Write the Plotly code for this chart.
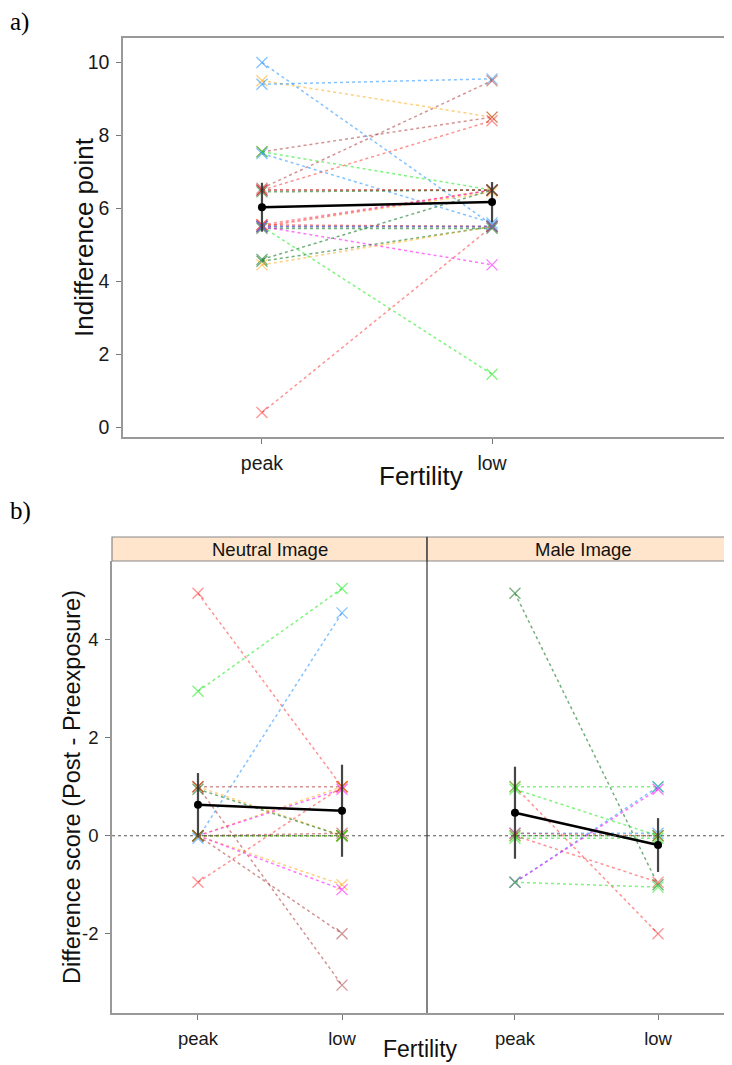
import plotly.graph_objects as go

# page body has an 8px margin, so the figure is drawn 8px in from the window edge
OFF = 8
W, H = 732 - OFF, 1065 - OFF

# ---------------- data ----------------
fertility = ["peak", "low"]

# Panel a: indifference points per subject (peak, low)
a_peak = [10.0, 9.5, 9.4, 7.55, 7.55, 7.5, 6.55, 6.5, 6.5, 6.45, 6.5, 5.5, 5.5, 5.55,
          5.5, 5.5, 5.5, 5.45, 5.5, 5.5, 4.6, 4.55, 4.45, 0.4, 5.55, 5.5]
a_low = [5.55, 8.5, 9.55, 8.5, 6.5, 5.6, 9.5, 8.4, 6.5, 6.5, 6.5, 6.5, 6.45, 6.5,
         5.5, 5.5, 5.5, 5.45, 1.45, 4.45, 6.5, 5.5, 5.5, 5.5, 5.5, 5.5]
a_col = ["blue", "orange", "blue", "brown", "green", "blue", "brown", "red", "red",
         "darkgreen", "brown", "magenta", "orange", "red", "green", "orange", "magenta",
         "darkgreen", "green", "magenta", "darkgreen", "darkgreen", "orange", "red", "red", "blue"]
a_mean = [6.03, 6.17]
a_err = [0.67, 0.55]

# Panel b, neutral image: difference scores (peak, low)
n_peak = [4.95, 2.95, -0.05, -0.95, 1.0, 1.0, 0.95, 1.0, 0.0, 0.0, 0.0, 0.0, 0.0, 0.0, 0.0, 0.0, 0.0]
n_low = [1.0, 5.05, 4.55, 1.0, 1.0, 0.0, 0.0, -3.05, -2.0, -1.0, -1.1, 1.0, 0.95, 0.0, 0.0, 0.0, 0.05]
n_col = ["red", "green", "blue", "red", "brown", "orange", "darkgreen", "brown", "brown",
         "orange", "magenta", "orange", "magenta", "darkgreen", "orange", "green", "brown"]
n_mean = [0.63, 0.51]
n_err = [0.65, 0.94]

# Panel b, male image
m_peak = [4.95, 1.0, 1.0, 0.95, 0.05, 0.0, 0.0, -0.05, -0.95, -0.95, -0.95, 0.05]
m_low = [-1.0, -2.0, 1.0, 0.0, 0.05, -0.95, 0.0, -0.05, 1.0, 0.95, -1.05, 0.0]
m_col = ["darkgreen", "red", "green", "green", "blue", "red", "green", "green",
         "blue", "magenta", "green", "red"]
m_mean = [0.47, -0.19]
m_err = [0.94, 0.55]

a_yticks = [0, 2, 4, 6, 8, 10]
a_yticklabels = ["0", "2", "4", "6", "8", "10"]
b_yticks = [-2, 0, 2, 4]
b_yticklabels = ["-2", "0", "2", "4"]

# ---------------- styling ----------------
palette = {
    "red": "rgba(255,40,40,0.5)",
    "blue": "rgba(30,144,255,0.55)",
    "green": "rgba(20,235,20,0.55)",
    "darkgreen": "rgba(0,110,20,0.55)",
    "orange": "rgba(255,170,20,0.55)",
    "magenta": "rgba(255,0,255,0.55)",
    "brown": "rgba(165,42,42,0.5)",
}
FONT = "Liberation Sans, Arial, sans-serif"
SERIF = "Liberation Serif, Times New Roman, serif"
xpos = [1, 2]


def px(x):
    return (x - OFF) / W


def py(y):
    return 1 - (y - OFF) / H


fig = go.Figure()


def add_panel(peaks, lows, cols, mean, err, xa, ya):
    for p, l, c in zip(peaks, lows, cols):
        fig.add_trace(go.Scatter(
            x=xpos, y=[p, l], mode="lines+markers", xaxis=xa, yaxis=ya,
            line=dict(color=palette[c], width=1.5, dash="dot"),
            marker=dict(symbol="x-thin", size=11, line=dict(color=palette[c], width=1.3)),
            showlegend=False, hoverinfo="skip"))
    fig.add_trace(go.Scatter(
        x=xpos, y=mean, mode="lines+markers", xaxis=xa, yaxis=ya,
        line=dict(color="black", width=2.5),
        marker=dict(symbol="circle", size=8, color="black"),
        error_y=dict(type="data", array=err, visible=True, thickness=2.2, width=0,
                     color="rgba(50,50,50,0.9)"),
        showlegend=False, hoverinfo="skip"))


add_panel(a_peak, a_low, a_col, a_mean, a_err, "x", "y")
add_panel(n_peak, n_low, n_col, n_mean, n_err, "x2", "y2")
add_panel(m_peak, m_low, m_col, m_mean, m_err, "x3", "y3")


def axis_style(size):
    return dict(showgrid=False, zeroline=False, ticks="outside", ticklen=5,
                tickcolor="#777", ticklabelstandoff=3,
                tickfont=dict(family=FONT, size=size, color="#1a1a1a"))


A_TICK, B_TICK = 19.5, 18.5

fig.update_layout(
    width=W, height=H, margin=dict(l=0, r=0, t=0, b=0),
    plot_bgcolor="white", paper_bgcolor="white",
    xaxis=dict(domain=[px(123), 1], range=[0.396, 3.043], tickvals=xpos, ticktext=fertility,
               showline=True, mirror=True, linecolor="#999", linewidth=1.5, anchor="y",
               **axis_style(A_TICK)),
    yaxis=dict(domain=[py(437), py(38)], range=[-0.27, 10.67], tickvals=a_yticks,
               ticktext=a_yticklabels,
               showline=True, linecolor="#999", linewidth=1.5, anchor="x", **axis_style(A_TICK)),
    xaxis2=dict(domain=[px(112), px(427)], range=[0.403, 2.59], tickvals=xpos, ticktext=fertility,
                showline=True, linecolor="#999", linewidth=1.5, anchor="y2", **axis_style(B_TICK)),
    yaxis2=dict(domain=[py(1013), py(561)], range=[-3.62, 5.61], tickvals=b_yticks,
                ticktext=b_yticklabels,
                showline=True, linecolor="#999", linewidth=1.5, anchor="x2", **axis_style(B_TICK)),
    xaxis3=dict(domain=[px(427), 1], range=[0.385, 2.517], tickvals=xpos, ticktext=fertility,
                showline=True, linecolor="#999", linewidth=1.5, anchor="y3", **axis_style(B_TICK)),
    yaxis3=dict(domain=[py(1013), py(561)], range=[-3.62, 5.61], showticklabels=False,
                ticks="", showgrid=False, zeroline=False, anchor="x3"),
)

# zero reference lines in panel b
for xa, ya in (("x2", "y2"), ("x3", "y3")):
    fig.add_shape(type="line", xref=f"{xa} domain", yref=ya, x0=0, x1=1, y0=0, y1=0,
                  line=dict(color="#555", width=1.2, dash="dot"))

# divider between facets
fig.add_shape(type="line", xref="paper", yref="paper", x0=px(427), x1=px(427),
              y0=py(1013), y1=py(537), line=dict(color="#333", width=1.2))

# strips
for x0, x1, cx, label in ((112, 427, 270, "Neutral Image"), (427, 740, 583, "Male Image")):
    fig.add_shape(type="rect", xref="paper", yref="paper", x0=px(x0), x1=px(x1),
                  y0=py(561), y1=py(537), fillcolor="#ffe5cc",
                  line=dict(color="#888", width=1.2), layer="below")
    fig.add_annotation(text=label, xref="paper", yref="paper", x=px(cx), y=py(549),
                       xanchor="center", yanchor="middle",
                       showarrow=False, font=dict(family=FONT, size=18.5, color="#111"))


def title(text, x, y, size, angle=0):
    fig.add_annotation(text=text, xref="paper", yref="paper", x=px(x), y=py(y),
                       xanchor="center", yanchor="middle", textangle=angle, showarrow=False,
                       font=dict(family=FONT, size=size, color="#111"))


title("Indifference point", 84, 237, 26, -90)
title("Fertility", 421, 476, 26)
title("Difference score (Post - Preexposure)", 72, 787, 23.5, -90)
title("Fertility", 421, 1049, 23)

# panel labels
for text, y in (("a)", 22), ("b)", 511)):
    fig.add_annotation(text=text, xref="paper", yref="paper", x=px(8), y=py(y),
                       xanchor="left", yanchor="middle", showarrow=False,
                       font=dict(family=SERIF, size=25, color="black"))

fig.write_html("out.html")
